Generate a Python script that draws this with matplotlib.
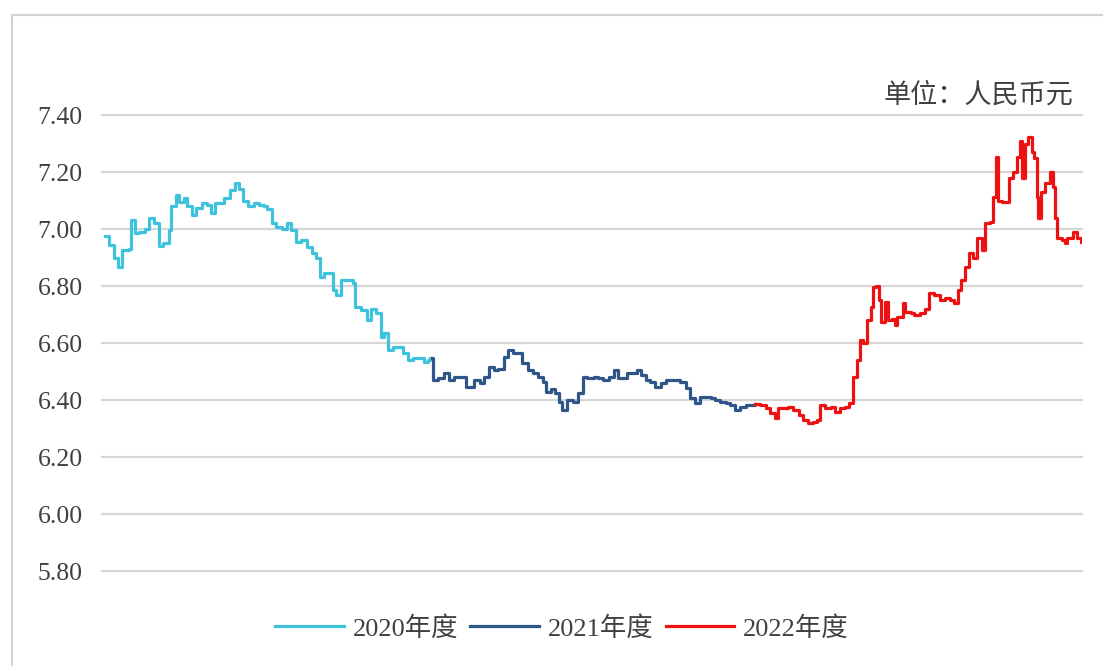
import matplotlib
matplotlib.use('Agg')
import matplotlib.pyplot as plt
from matplotlib.patches import Rectangle

plt.rcParams['font.family'] = ['Liberation Serif', 'Noto Sans CJK SC', 'DejaVu Sans']

# trading-day index (counted from the first day of 2020) and USD/CNY central rate
days_2020 = [2, 5, 9, 12, 15, 20, 22, 25, 28, 32, 35, 39, 43, 46, 50, 52, 56, 58, 62, 64,
             68, 71, 75, 79, 82, 85, 88, 92, 96, 100, 103, 106, 110, 114, 118, 122, 124, 128,
             131, 135, 139, 142, 146, 150, 154, 158, 161, 164, 167, 171, 174, 176, 180, 185,
             189, 190, 195, 199, 202, 206, 210, 212, 215, 219, 223, 226, 230, 234, 238, 242,
             245, 247]
rate_2020 = [6.975, 6.944, 6.898, 6.867, 6.926, 6.930, 7.030, 6.986, 6.990, 7.000, 7.040,
             7.020, 6.940, 6.950, 6.996, 7.080, 7.120, 7.095, 7.110, 7.080, 7.050, 7.075,
             7.090, 7.085, 7.055, 7.090, 7.090, 7.110, 7.137, 7.160, 7.140, 7.100, 7.080,
             7.090, 7.085, 7.080, 7.070, 7.020, 7.007, 7.000, 7.020, 6.996, 6.955, 6.960,
             6.937, 6.915, 6.900, 6.830, 6.845, 6.845, 6.786, 6.770, 6.820, 6.820, 6.810,
             6.726, 6.716, 6.680, 6.720, 6.705, 6.620, 6.635, 6.575, 6.586, 6.586, 6.565,
             6.540, 6.547, 6.547, 6.533, 6.540, 6.547]

days_2021 = [248, 249, 253, 257, 261, 265, 270, 274, 278, 280, 284, 287, 291, 295, 298, 302,
             305, 309, 313, 316, 320, 324, 328, 332, 334, 338, 341, 344, 346, 350, 354, 358,
             362, 365, 370, 373, 377, 381, 385, 388, 392, 395, 399, 402, 405, 409, 412, 416,
             420, 424, 428, 431, 435, 439, 442, 446, 450, 454, 458, 461, 465, 469, 472, 476,
             480, 484, 488, 491]
rate_2021 = [6.547, 6.470, 6.477, 6.495, 6.470, 6.480, 6.480, 6.446, 6.446, 6.470, 6.460,
             6.480, 6.516, 6.505, 6.510, 6.550, 6.575, 6.565, 6.565, 6.530, 6.505, 6.495,
             6.480, 6.463, 6.428, 6.440, 6.425, 6.393, 6.365, 6.400, 6.393, 6.425, 6.480,
             6.477, 6.480, 6.477, 6.470, 6.480, 6.505, 6.477, 6.477, 6.495, 6.495, 6.505,
             6.488, 6.470, 6.463, 6.446, 6.460, 6.470, 6.470, 6.470, 6.463, 6.442, 6.407,
             6.390, 6.410, 6.410, 6.407, 6.400, 6.393, 6.390, 6.382, 6.365, 6.375, 6.382,
             6.382, 6.385]

days_2022 = [491, 495, 499, 502, 506, 508, 512, 516, 520, 524, 527, 531, 535, 538, 540, 544,
             548, 551, 555, 559, 562, 565, 568, 570, 572, 575, 578, 580, 582, 584, 586, 587,
             589, 591, 594, 596, 598, 602, 604, 608, 611, 615, 619, 622, 626, 630, 634, 638,
             641, 644, 646, 649, 652, 655, 658, 662, 664, 668, 670, 672, 674, 677, 680, 682,
             685, 688, 690, 692, 694, 696, 699, 701, 703, 704, 706, 709, 711, 713, 715, 717,
             718, 722, 724, 726, 730, 733, 736]
rate_2022 = [6.385, 6.382, 6.372, 6.355, 6.337, 6.372, 6.372, 6.375, 6.365, 6.347, 6.330,
             6.320, 6.323, 6.330, 6.382, 6.372, 6.375, 6.358, 6.372, 6.375, 6.390, 6.480,
             6.540, 6.610, 6.600, 6.680, 6.726, 6.796, 6.800, 6.750, 6.674, 6.674, 6.745,
             6.680, 6.686, 6.663, 6.690, 6.740, 6.710, 6.705, 6.700, 6.705, 6.718, 6.775,
             6.770, 6.750, 6.758, 6.750, 6.740, 6.786, 6.820, 6.867, 6.915, 6.900, 6.970,
             6.926, 7.020, 7.025, 7.113, 7.253, 7.100, 7.095, 7.095, 7.180, 7.200, 7.253,
             7.310, 7.180, 7.300, 7.323, 7.270, 7.250, 7.113, 7.040, 7.130, 7.160, 7.160,
             7.200, 7.147, 7.040, 6.968, 6.960, 6.950, 6.970, 6.990, 6.970, 6.954]

y_ticks = [5.80, 6.00, 6.20, 6.40, 6.60, 6.80, 7.00, 7.20, 7.40]
labels = ['2020年度', '2021年度', '2022年度']
colors = ['#3fc3dd', '#2f5689', '#ee1111']

fig = plt.figure(figsize=(11.03, 6.66), dpi=100)
ax = fig.add_axes([0.0925, 0.1426, 0.8885, 0.6847])

# daily fixing data -> staircase look
ax.plot(days_2020, rate_2020, color=colors[0], lw=2.3, drawstyle='steps-post', label=labels[0])
ax.plot(days_2021, rate_2021, color=colors[1], lw=2.3, drawstyle='steps-post', label=labels[1])
ax.plot(days_2022, rate_2022, color=colors[2], lw=2.3, drawstyle='steps-post', label=labels[2])

ax.set_xlim(0, 737)
ax.set_ylim(5.80, 7.40)
ax.set_yticks(y_ticks)
ax.set_yticklabels([f'{v:.2f}' for v in y_ticks])
ax.set_xticks([])
ax.tick_params(axis='y', length=0, pad=14, labelsize=18.5, labelcolor='#404040')
ax.yaxis.grid(True, color='#d6d6d6', lw=1.6)
for gl in ax.get_ygridlines():
    gl.set_clip_on(False)
ax.set_axisbelow(True)
for s in ax.spines.values():
    s.set_visible(False)

fig.text(0.973, 0.857, '单位：人民币元', ha='right', va='center', fontsize=19.5,
         color='#404040', family=['Noto Sans CJK SC', 'DejaVu Sans'])

fig.legend(loc='center', bbox_to_anchor=(0.5095, 0.057), ncol=3, frameon=False,
           fontsize=19, handlelength=2.6, handletextpad=0.35, columnspacing=0.45,
           labelcolor='#404040')

# light frame around the chart area
fig.patches.append(Rectangle((0.0109, -0.1), 1.2, 1.0775, transform=fig.transFigure,
                             fill=False, edgecolor='#d4d4d4', lw=1.6))

fig.savefig('out.png', dpi=100)
